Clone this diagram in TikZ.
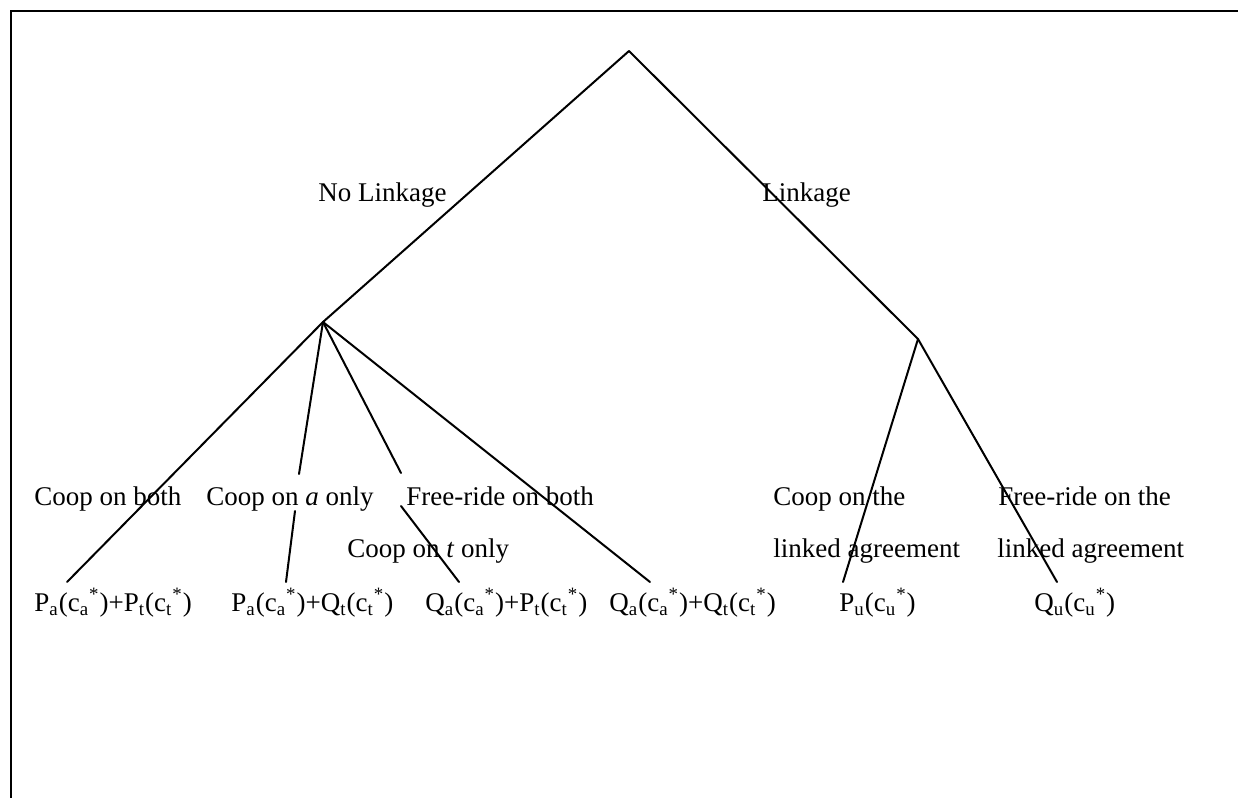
\documentclass[tikz,border=0pt]{standalone}
\usepackage{fontspec}
\setmainfont{Liberation Serif}
\newcommand\pay[2]{#1\textsubscript{#2}(c\textsubscript{#2}\textsuperscript{*})}
\begin{document}
\begin{tikzpicture}[x=0.5pt,y=-0.5pt,
  lbl/.style={anchor=base west,inner sep=0pt,font=\fontsize{13.5}{16}\selectfont},
  branch/.style={line width=1pt,line cap=round}]
\useasboundingbox (0,0) rectangle (1238,798);
\draw[line width=1.1pt] (11,798) -- (11,11) -- (1238,11);
% tree points
\coordinate (root) at (629,51);
\coordinate (L) at (323,322);
\coordinate (R) at (918,339);
\coordinate (e1) at (67,582);
\coordinate (m2a) at (299,474);
\coordinate (m2b) at (295,511);
\coordinate (e2) at (286,582);
\coordinate (m3a) at (401,473);
\coordinate (m3b) at (401,506);
\coordinate (e3) at (459,582);
\coordinate (e4) at (650,582);
\coordinate (e5) at (843,582);
\coordinate (e6) at (1057,582);
% branches
\draw[branch] (root) -- (L);
\draw[branch] (root) -- (R);
\draw[branch] (L) -- (e1);
\draw[branch] (L) -- (m2a);
\draw[branch] (m2b) -- (e2);
\draw[branch] (L) -- (m3a);
\draw[branch] (m3b) -- (e3);
\draw[branch] (L) -- (e4);
\draw[branch] (R) -- (e5);
\draw[branch] (R) -- (e6);
% labels
\node[lbl] (nl) at (318,201) {No Linkage};
\node[lbl] (lk) at (762,201) {Linkage};
\node[lbl] (b1) at (34,505) {Coop on both};
\node[lbl] (b2) at (206,505) {Coop on \textit{a} only};
\node[lbl] (b4) at (406,505) {Free-ride on both};
\node[lbl] (b3) at (347,557) {Coop on \textit{t} only};
\node[lbl] (b5) at (773,505) {Coop on the};
\node[lbl] (b5b) at (773,557) {linked agreement};
\node[lbl] (b6) at (998,505) {Free-ride on the};
\node[lbl] (b6b) at (997,557) {linked agreement};
% payoffs
\node[lbl] (p1) at (34,611) {\pay{P}{a}+\pay{P}{t}};
\node[lbl] (p2) at (231,611) {\pay{P}{a}+\pay{Q}{t}};
\node[lbl] (p3) at (425,611) {\pay{Q}{a}+\pay{P}{t}};
\node[lbl] (p4) at (609,611) {\pay{Q}{a}+\pay{Q}{t}};
\node[lbl] (p5) at (839,611) {\pay{P}{u}};
\node[lbl] (p6) at (1034,611) {\pay{Q}{u}};
\end{tikzpicture}
\end{document}
